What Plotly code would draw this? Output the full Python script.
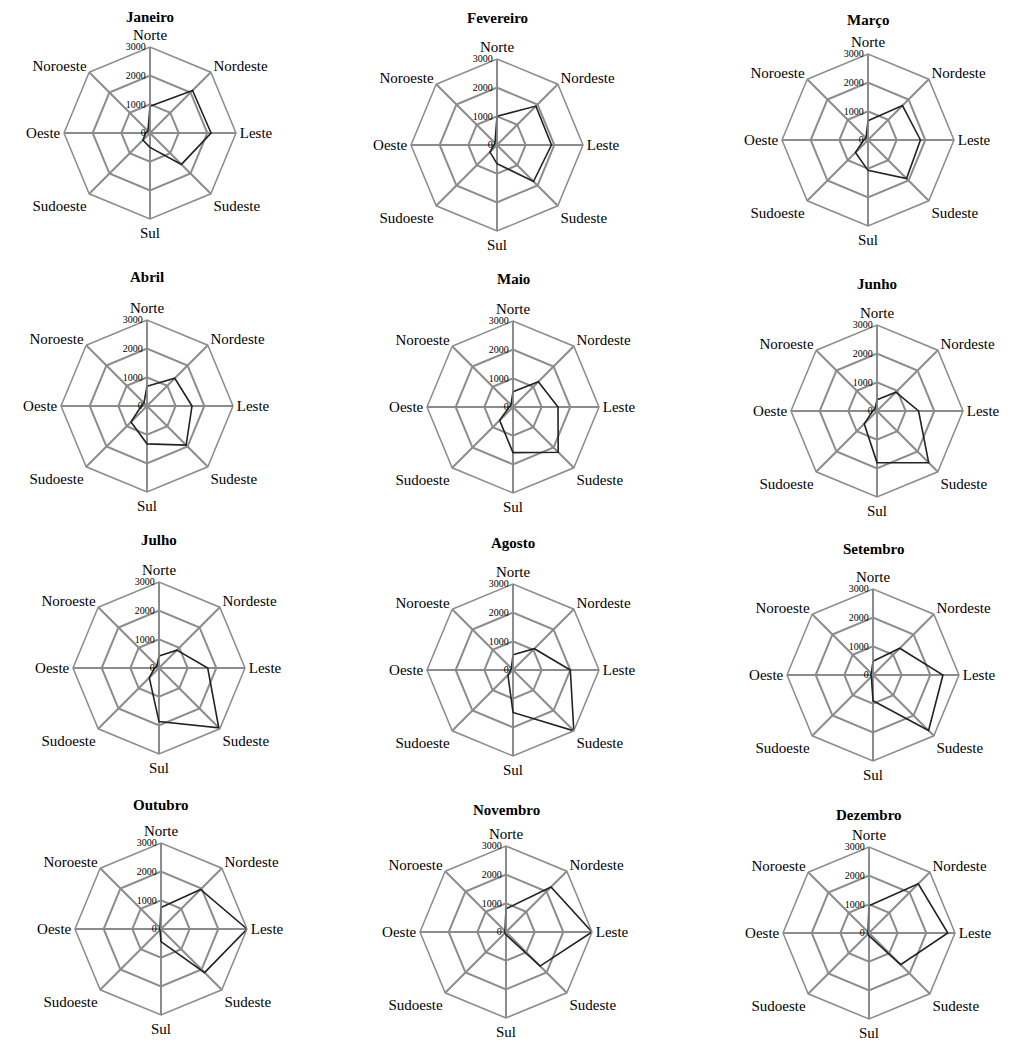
import plotly.graph_objects as go

directions = ["Norte", "Nordeste", "Leste", "Sudeste", "Sul", "Sudoeste", "Oeste", "Noroeste"]
months = ["Janeiro", "Fevereiro", "Março", "Abril", "Maio", "Junho",
          "Julho", "Agosto", "Setembro", "Outubro", "Novembro", "Dezembro"]

janeiro = [930, 2100, 2130, 1550, 500, 350, 150, 100]
fevereiro = [1000, 1920, 1900, 1800, 650, 350, 100, 100]
marco = [670, 1700, 1830, 1900, 1060, 620, 150, 100]
abril = [690, 1370, 1570, 1930, 1320, 790, 200, 150]
maio = [530, 1250, 1570, 2230, 1590, 660, 130, 100]
junho = [390, 930, 1450, 2550, 1800, 630, 150, 100]
julho = [420, 880, 1700, 2950, 1870, 480, 150, 100]
agosto = [530, 1050, 2000, 3000, 1480, 250, 80, 80]
setembro = [480, 1320, 2440, 2740, 900, 80, 80, 80]
outubro = [750, 1950, 3000, 2150, 440, 50, 50, 50]
novembro = [810, 2220, 3000, 1680, 100, 50, 50, 50]
dezembro = [950, 2430, 2750, 1560, 100, 50, 50, 50]

series = [janeiro, fevereiro, marco, abril, maio, junho,
          julho, agosto, setembro, outubro, novembro, dezembro]

radial_ticks = [0, 1000, 2000, 3000]

# layout: chart centres (pixels) and title positions
W, H = 1012, 1042
centers = [(150, 133), (497, 145), (868, 140),
           (147, 406), (513, 407), (877, 411),
           (159, 668), (513, 670), (873, 675),
           (161, 929), (506, 932), (869, 933)]
title_y = [17, 18, 20, 277, 279, 284, 540, 543, 549, 805, 810, 815]
R = 86

FONT = "Liberation Serif"
GRID = "#8c8c8c"

fig = go.Figure()
annotations = []
for i, (name, vals) in enumerate(zip(months, series)):
    pid = "polar" if i == 0 else f"polar{i+1}"
    cx, cy = centers[i]
    fig.add_trace(go.Scatterpolar(
        r=vals + [vals[0]],
        theta=directions + [directions[0]],
        mode="lines",
        line=dict(color="#222222", width=1.6),
        showlegend=False,
        subplot=pid,
        hoverinfo="skip",
    ))
    fig.update_layout(**{pid: dict(
        domain=dict(x=[(cx - R) / W, (cx + R) / W],
                    y=[1 - (cy + R) / H, 1 - (cy - R) / H]),
        bgcolor="white",
        gridshape="linear",
        angularaxis=dict(
            direction="clockwise", rotation=90,
            categoryorder="array", categoryarray=directions,
            showgrid=True, gridcolor=GRID, gridwidth=1.5,
            showline=True, linecolor=GRID, linewidth=1.5,
            ticks="", tickfont=dict(family=FONT, size=15, color="black"),
        ),
        radialaxis=dict(
            range=[0, 3000], tickvals=radial_ticks,
            ticktext=[str(t) for t in radial_ticks],
            angle=90, tickangle=90, side="counterclockwise",
            showgrid=True, gridcolor=GRID, gridwidth=1.5,
            showline=True, linecolor=GRID, linewidth=1.5,
            ticks="", tickfont=dict(family=FONT, size=10, color="black"),
        ),
    )})
    annotations.append(dict(
        text=f"<b>{name}</b>", x=cx / W, y=1 - title_y[i] / H,
        xref="paper", yref="paper", showarrow=False,
        font=dict(family=FONT, size=15, color="black"),
        xanchor="center", yanchor="middle",
    ))

fig.update_layout(
    width=W, height=H,
    margin=dict(l=0, r=0, t=0, b=0),
    paper_bgcolor="white", plot_bgcolor="white",
    annotations=annotations,
)

fig.write_html("out.html", config={"displayModeBar": False},
               post_script="document.body.style.margin='0';")
